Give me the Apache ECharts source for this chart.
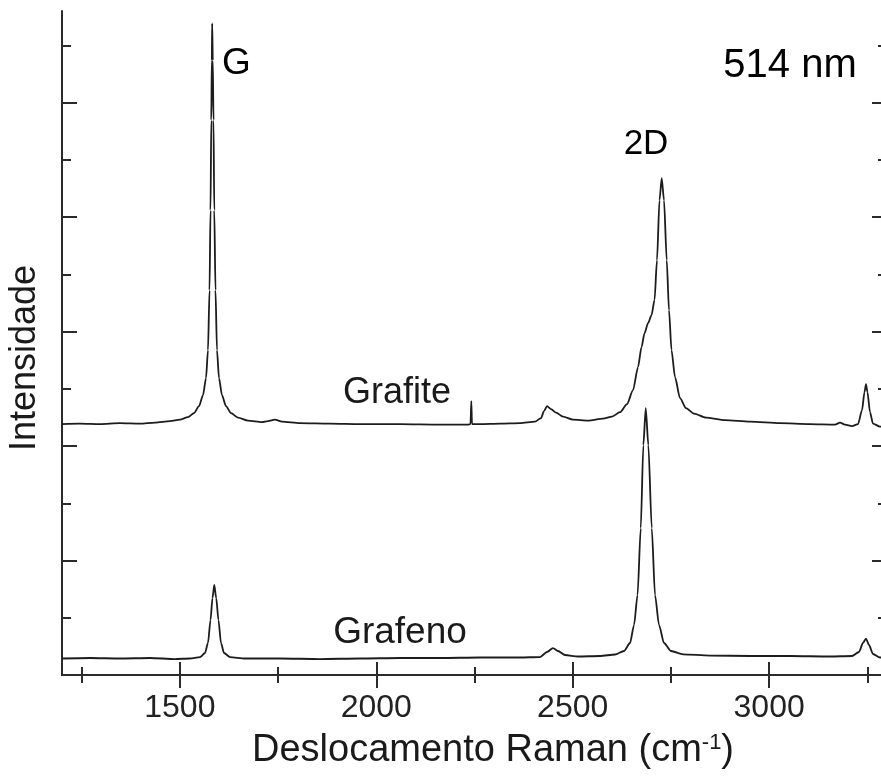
<!DOCTYPE html>
<html>
<head>
<meta charset="utf-8">
<script src="https://cdn.jsdelivr.net/npm/echarts@6/dist/echarts.min.js"></script>
<style>
  html, body { margin: 0; padding: 0; background: #fff; }
  #chart { width: 881px; height: 776px; }
</style>
</head>
<body>
<div id="chart"></div>
<script>
// Raman spectra (514 nm excitation): graphite (offset upwards) and graphene.
// Intensity is in arbitrary units, one unit per minor tick of the vertical axis.
const shiftGrafite = [
  1200, 1245.8, 1296.7, 1347.6, 1398.5, 1436.7, 1474.9, 1500.4, 1520.7, 1536.0,
  1548.7, 1558.9, 1566.6, 1571.6, 1575.5, 1578.0, 1580.0, 1581.3, 1582.3, 1583.8,
  1585.6, 1587.6, 1590.7, 1594.5, 1599.6, 1607.3, 1617.5, 1630.2, 1648.0, 1673.5,
  1709.1, 1724.4, 1742.2, 1760.0, 1805.8, 1882.2, 1958.6, 2060.4, 2162.2, 2233.5,
  2239.8, 2241.9, 2243.6, 2264.0, 2314.9, 2365.8, 2404.0, 2419.3, 2426.9, 2434.6,
  2444.8, 2457.5, 2475.3, 2500.7, 2538.9, 2577.1, 2600.0, 2620.4, 2638.2, 2653.5,
  2666.2, 2675.1, 2682.8, 2691.7, 2700.6, 2708.2, 2714.5, 2720.9, 2726.5, 2732.4,
  2739.3, 2745.1, 2751.5, 2760.4, 2773.1, 2788.4, 2808.8, 2839.3, 2887.7, 2951.3,
  3027.7, 3104.0, 3167.7, 3180.4, 3193.1, 3210.9, 3226.2, 3236.4, 3242.7, 3246.5,
  3250.3, 3256.7, 3264.3, 3282.2, 3300.0
];
const intensityGrafite = [
  4.383, 4.391, 4.383, 4.400, 4.391, 4.409, 4.435, 4.461, 4.505, 4.575,
  4.697, 4.889, 5.186, 5.675, 6.723, 8.119, 9.691, 10.739, 11.385, 10.739,
  9.691, 8.119, 6.723, 5.675, 5.186, 4.889, 4.697, 4.575, 4.496, 4.444,
  4.418, 4.435, 4.461, 4.426, 4.400, 4.391, 4.383, 4.383, 4.374, 4.374,
  4.383, 4.784, 4.383, 4.383, 4.391, 4.400, 4.426, 4.487, 4.610, 4.697,
  4.645, 4.584, 4.514, 4.461, 4.444, 4.479, 4.514, 4.592, 4.732, 4.976,
  5.378, 5.727, 5.972, 6.146, 6.286, 6.548, 7.246, 8.294, 8.678, 8.294,
  7.246, 6.373, 5.675, 5.203, 4.837, 4.662, 4.566, 4.496, 4.453, 4.426,
  4.400, 4.383, 4.374, 4.409, 4.374, 4.348, 4.383, 4.627, 4.941, 5.081,
  4.941, 4.592, 4.391, 4.339, 4.339
];

const shiftGrafeno = [
  1200, 1271.3, 1347.6, 1424.0, 1487.6, 1525.8, 1551.3, 1564.0, 1571.6, 1578.0,
  1583.1, 1587.6, 1592.5, 1598.3, 1604.7, 1612.4, 1627.6, 1665.8, 1754.9, 1856.7,
  1958.6, 2060.4, 2162.2, 2264.0, 2365.8, 2416.7, 2434.6, 2449.8, 2462.5, 2480.4,
  2513.5, 2569.5, 2607.7, 2630.6, 2645.9, 2656.1, 2665.0, 2673.2, 2679.8, 2685.9,
  2692.5, 2701.2, 2709.5, 2719.7, 2732.4, 2750.3, 2780.8, 2849.5, 2951.3, 3053.1,
  3154.9, 3210.9, 3228.7, 3238.9, 3246.5, 3254.2, 3264.3, 3282.2, 3300.0
];
const intensityGrafeno = [
  0.288, 0.297, 0.288, 0.297, 0.279, 0.288, 0.314, 0.384, 0.559, 0.960,
  1.345, 1.572, 1.345, 0.960, 0.559, 0.384, 0.314, 0.288, 0.288, 0.279,
  0.288, 0.297, 0.297, 0.306, 0.306, 0.314, 0.402, 0.471, 0.419, 0.349,
  0.323, 0.332, 0.358, 0.419, 0.559, 0.873, 1.397, 2.567, 4.016, 4.662,
  4.016, 2.567, 1.397, 0.873, 0.559, 0.419, 0.361, 0.340, 0.332, 0.332,
  0.323, 0.332, 0.402, 0.559, 0.637, 0.524, 0.367, 0.306, 0.297
];

// Axis extents and tick positions
const shiftRange = [1200, 3300];
const intensityRange = [0, 11.6];
const shiftMajorTicks = [1500, 2000, 2500, 3000];
const shiftMinorTicks = [1250, 1750, 2250, 2750, 3250];
const intensityMajorTicks = [2, 4, 6, 8, 10];
const intensityMinorTicks = [1, 3, 5, 7, 9, 11];

const FONT = '"Liberation Sans", Arial, sans-serif';
const INK = '#1a1a1a';
const AXIS = '#2b2b2b';

const zip = (xs, ys) => xs.map((x, i) => [x, ys[i]]);

function xAxisDef(position, ticks, len, withLine, withLabels) {
  return {
    type: 'value', position, min: shiftRange[0], max: shiftRange[1],
    axisLine: { show: withLine, lineStyle: { color: AXIS, width: 2 } },
    axisTick: { show: true, inside: true, length: len, customValues: ticks,
                lineStyle: { color: AXIS, width: 2 } },
    axisLabel: withLabels
      ? { show: true, customValues: ticks, fontFamily: FONT, fontSize: 32,
          color: '#222', margin: 17, formatter: v => String(v) }
      : { show: false },
    splitLine: { show: false }
  };
}
function yAxisDef(position, ticks, len, withLine) {
  return {
    type: 'value', position, min: intensityRange[0], max: intensityRange[1],
    axisLine: { show: withLine, lineStyle: { color: AXIS, width: 2 } },
    axisTick: { show: true, inside: true, length: len, customValues: ticks,
                lineStyle: { color: AXIS, width: 2 } },
    axisLabel: { show: false },
    splitLine: { show: false }
  };
}

const chart = echarts.init(document.getElementById('chart'), null, { renderer: 'canvas' });

const spectrumStyle = {
  type: 'line', xAxisIndex: 0, yAxisIndex: 0,
  showSymbol: false, symbol: 'none',
  smooth: 0.25, smoothMonotone: 'x',
  lineStyle: { color: '#1c1c1c', width: 1.8 },
  z: 3
};

chart.setOption({
  animation: false,
  backgroundColor: '#fff',
  // the right frame edge lies just past the canvas edge
  grid: { left: 62, width: 825, top: 11, height: 664, outerBoundsMode: 'none', containLabel: false },
  xAxis: [
    xAxisDef('bottom', shiftMajorTicks, 13, true, true),
    xAxisDef('bottom', shiftMinorTicks, 8, false, false),
    xAxisDef('top', shiftMajorTicks, 13, true, false),
    xAxisDef('top', shiftMinorTicks, 8, false, false)
  ],
  yAxis: [
    yAxisDef('left', intensityMajorTicks, 15, true),
    yAxisDef('left', intensityMinorTicks, 9, false),
    yAxisDef('right', intensityMajorTicks, 15, true),
    yAxisDef('right', intensityMinorTicks, 9, false)
  ],
  series: [
    Object.assign({ name: 'Grafite', data: zip(shiftGrafite, intensityGrafite) }, spectrumStyle),
    Object.assign({ name: 'Grafeno', data: zip(shiftGrafeno, intensityGrafeno) }, spectrumStyle)
  ],
  graphic: [
    { type: 'text', x: 222, y: 64,
      style: { text: 'G', font: '37px ' + FONT, fill: '#000', align: 'left', verticalAlign: 'middle' } },
    { type: 'text', x: 646, y: 144,
      style: { text: '2D', font: '35px ' + FONT, fill: '#000', align: 'center', verticalAlign: 'middle' } },
    { type: 'text', x: 790, y: 66,
      style: { text: '514 nm', font: '40px ' + FONT, fill: '#000', align: 'center', verticalAlign: 'middle' } },
    { type: 'text', x: 397, y: 393,
      style: { text: 'Grafite', font: '36px ' + FONT, fill: INK, align: 'center', verticalAlign: 'middle' } },
    { type: 'text', x: 400, y: 633,
      style: { text: 'Grafeno', font: '37px ' + FONT, fill: INK, align: 'center', verticalAlign: 'middle' } },
    { type: 'text', x: 493, y: 751,
      style: {
        text: '{t|Deslocamento Raman (cm}{s|-1}{t|)}',
        align: 'center', verticalAlign: 'middle',
        rich: {
          t: { font: '38px ' + FONT, fill: INK },
          s: { font: '22px ' + FONT, fill: INK, verticalAlign: 'top', padding: [0, 0, 15, 0] }
        }
      } },
    { type: 'text', x: 25, y: 358, rotation: Math.PI / 2,
      style: { text: 'Intensidade', font: '36px ' + FONT, fill: INK, align: 'center', verticalAlign: 'middle' } }
  ]
});
</script>
</body>
</html>
